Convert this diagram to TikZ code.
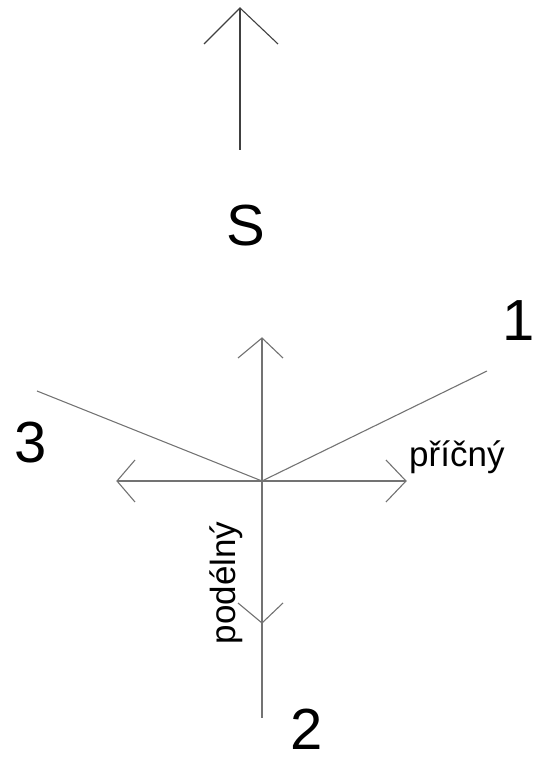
\documentclass[tikz,border=0pt]{standalone}
\usepackage{fontspec}
\setmainfont{Liberation Sans}
\begin{document}
\begin{tikzpicture}[x=1pt,y=1pt,
  ln/.style={draw=black!55, line width=1.1pt},
  dk/.style={draw=black!75, line width=1.1pt},
  big/.style={font=\fontsize{58}{58}\selectfont, inner sep=0pt},
  small/.style={font=\fontsize{35}{35}\selectfont, inner sep=0pt}]
\useasboundingbox (0,0) rectangle (536,760);
% north arrow
\coordinate (Nbase) at (240,610);
\coordinate (Ntip) at (240,752);
\draw[dk] (Nbase) -- (Ntip);
\draw[dk] ([shift={(-36,-36)}]Ntip) -- (Ntip) -- ([shift={(38,-36)}]Ntip);
\node[big] (S) at (246,534) {S};
% centre
\coordinate (O) at (262,279);
\coordinate (Up) at (262,422);
\coordinate (Dn) at (262,42);
\coordinate (L) at (117,279);
\coordinate (R) at (406,279);
\coordinate (E1) at (487,389);
\coordinate (E3) at (37,369);
\coordinate (Dtip) at (262,137);
\draw[ln] (Dn) -- (Up);
\draw[ln] (L) -- (R);
\draw[ln] (O) -- (E1);
\draw[ln] (O) -- (E3);
% arrowheads
\draw[ln] ([shift={(-24,-20)}]Up) -- (Up) -- ([shift={(21,-20)}]Up);
\draw[ln] ([shift={(18,21)}]L) -- (L) -- ([shift={(18,-21)}]L);
\draw[ln] ([shift={(-20,21)}]R) -- (R) -- ([shift={(-20,-21)}]R);
\draw[ln] ([shift={(-24,20)}]Dtip) -- (Dtip) -- ([shift={(21,20)}]Dtip);
% labels
\node[big] (n1) at (519,439) {1};
\node[big] (n3) at (31,317) {3};
\node[big] (n2) at (307,31) {2};
\node[small, anchor=base west] (pr) at (409,293) {příčný};
\node[small, anchor=base, rotate=90] (po) at (235,177) {podélný};
\end{tikzpicture}
\end{document}
